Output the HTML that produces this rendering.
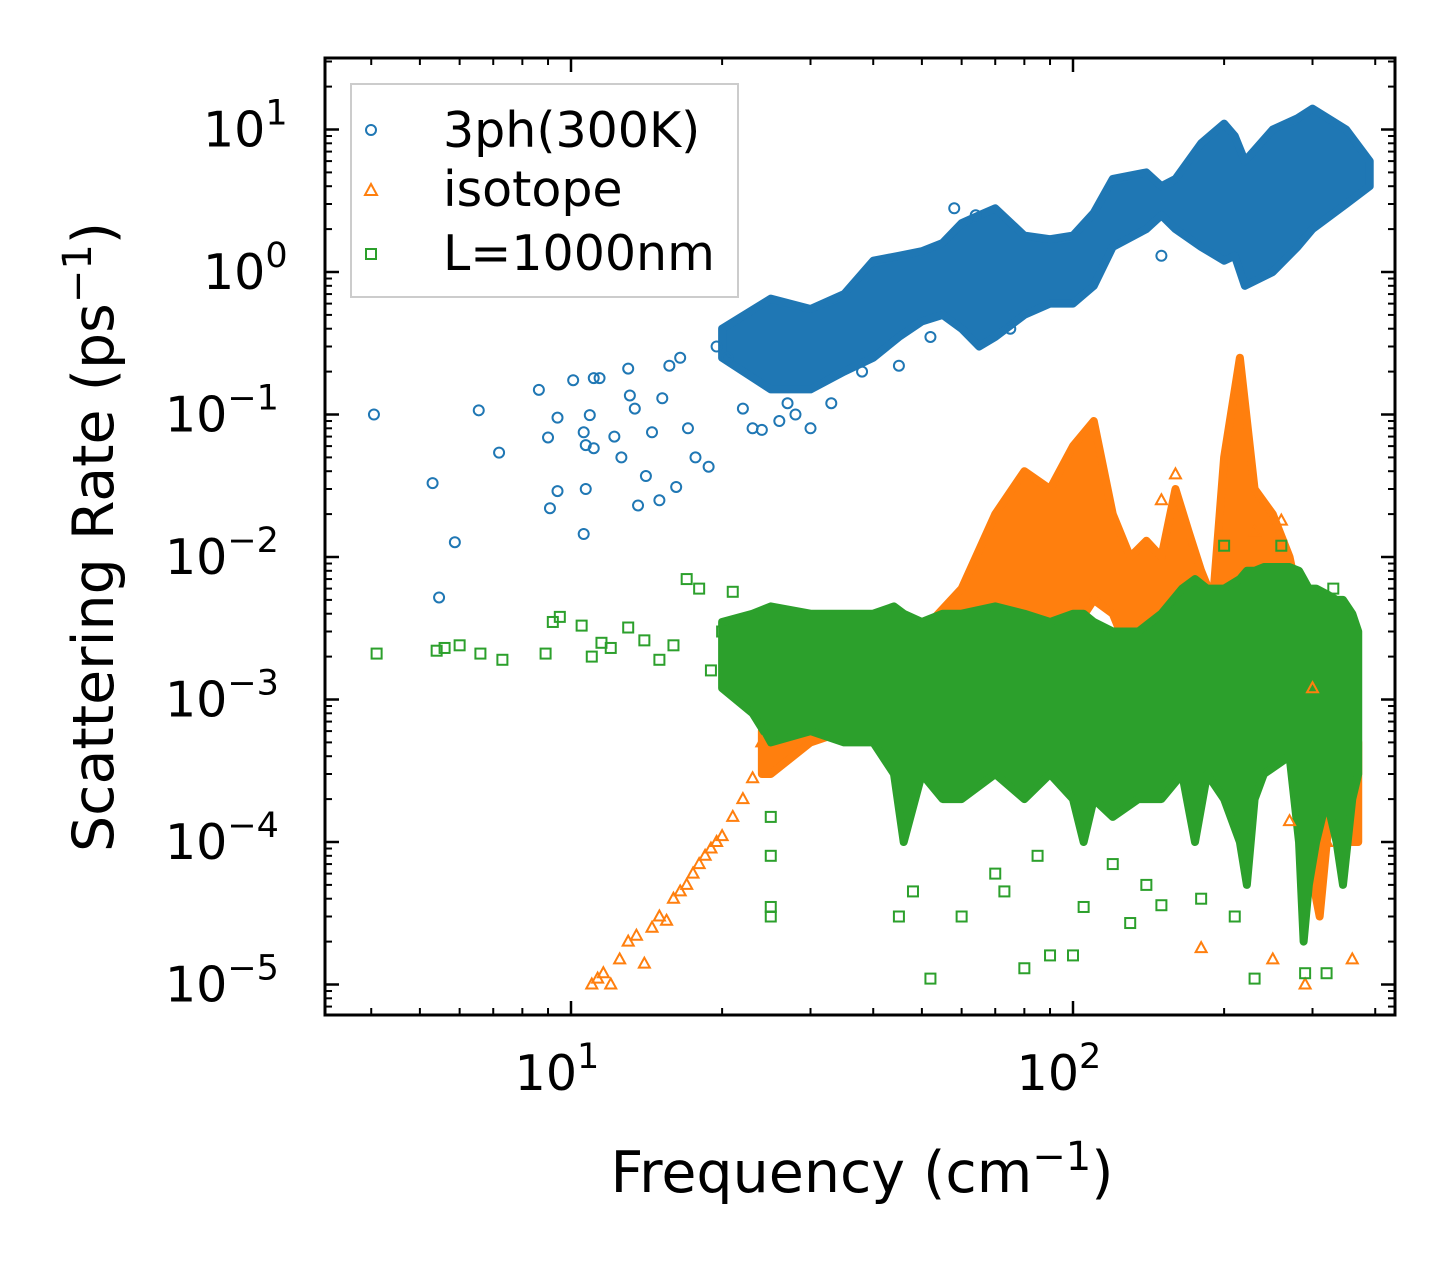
<!DOCTYPE html>
<html><head><meta charset="utf-8"><style>
body{margin:0;background:#fff;}
svg text{font-family:"DejaVu Sans","Liberation Sans",sans-serif;fill:#000;}
</style></head><body>
<svg id="chart" width="1455" height="1265" viewBox="0 0 1455 1265" xmlns="http://www.w3.org/2000/svg">
<g id="bands"></g>
<g id="marks"></g>
<g id="axes"></g>
<text x="862" y="1192" font-size="57" text-anchor="middle">Frequency (cm<tspan dy="-22" font-size="40">−1</tspan><tspan dy="22">)</tspan></text>
<text transform="translate(113,537) rotate(-90)" font-size="57" text-anchor="middle">Scattering Rate (ps<tspan dy="-22" font-size="40">−1</tspan><tspan dy="22">)</tspan></text>
<g>
<rect x="351" y="84" width="387" height="213" fill="#fff" stroke="#ccc" stroke-width="2"/>
<circle cx="371" cy="130" r="5" fill="none" stroke="#1f77b4" stroke-width="2"/>
<text x="443" y="147" font-size="49">3ph(300K)</text>
<polygon points="371,184 377,195 365,195" fill="none" stroke="#ff7f0e" stroke-width="2"/>
<text x="443" y="206" font-size="49">isotope</text>
<rect x="366" y="249" width="10" height="10" fill="none" stroke="#2ca02c" stroke-width="2"/>
<text x="443" y="270" font-size="49">L=1000nm</text>
</g>
</svg>
<script>
// ---- data ----
const blueFreq=[4.05,5.3,5.46,5.87,6.55,7.19,8.63,9.0,9.08,9.4,9.4,10.1,10.6,10.6,10.7,10.7,10.9,11.1,11.1,11.4,12.2,12.6,13.0,13.1,13.4,13.6,14.1,14.5,15.0,15.2,15.7,16.2,16.5,17.1,17.7,18.8,19.5,20.5,22,23,24,26,27,28,30,33,38,45,52,58,64,75,150];
const blueVal=[0.1,0.033,0.0052,0.0127,0.107,0.054,0.149,0.069,0.022,0.029,0.095,0.174,0.075,0.0145,0.030,0.061,0.099,0.18,0.058,0.18,0.07,0.05,0.21,0.136,0.11,0.023,0.037,0.075,0.025,0.13,0.22,0.031,0.25,0.08,0.05,0.043,0.3,0.25,0.11,0.08,0.078,0.09,0.12,0.1,0.08,0.12,0.2,0.22,0.35,2.8,2.5,0.4,1.3];
const blueBandF=[20,25,30,35,40,45,50,55,60,65,70,80,90,100,110,120,140,150,160,180,200,210,220,250,280,300,350,390];
const blueBandLo=[0.25,0.15,0.15,0.2,0.25,0.35,0.45,0.5,0.4,0.3,0.35,0.5,0.6,0.6,0.8,1.5,2.0,2.5,2.0,1.5,1.2,1.3,0.8,1.0,1.5,2.0,3.0,4.0];
const blueBandHi=[0.4,0.65,0.55,0.7,1.2,1.3,1.4,1.6,2.2,2.5,2.8,1.8,1.7,1.8,2.6,4.5,5.0,4.0,4.5,8.0,11,9,6.0,10,12,14,10,6.0];
const orFreq=[11,11.3,11.6,12,12.5,13,13.5,14,14.5,15,15.5,16,16.5,17,17.5,18,18.5,19,19.5,20,21,22,23,24,180,250,270,290,320,360,160,150,230,260,300];
const orVal=[1e-5,1.1e-5,1.2e-5,1e-5,1.5e-5,2e-5,2.2e-5,1.4e-5,2.5e-5,3e-5,2.8e-5,4e-5,4.5e-5,5e-5,6e-5,7e-5,8e-5,9e-5,1e-4,1.1e-4,1.5e-4,2e-4,2.8e-4,5e-4,1.8e-5,1.5e-5,1.4e-4,1e-5,1e-4,1.5e-5,0.038,0.025,0.015,0.018,0.0012];
const orBandF=[24,25,30,35,40,50,60,70,80,90,100,110,120,130,140,150,160,170,180,190,200,215,230,250,270,290,310,330,360,370];
const orBandLo=[3e-4,3e-4,5e-4,6e-4,8e-4,1e-3,2e-3,3e-3,3e-3,2e-3,3e-3,5e-3,4e-3,2e-3,1e-3,1e-3,3e-3,3e-3,2e-3,1e-3,2e-3,5e-3,2e-3,1e-3,1e-3,1e-4,3e-5,3e-4,1e-4,1e-4];
const orBandHi=[6e-4,1e-3,8e-4,1e-3,1.5e-3,3e-3,6e-3,2e-2,4e-2,3e-2,6e-2,9e-2,2e-2,1e-2,1.3e-2,1e-2,3e-2,1.5e-2,8e-3,5e-3,5e-2,0.25,3e-2,2e-2,1e-2,3e-3,1e-3,2e-3,1e-3,5e-4];
const grFreq=[4.1,5.4,5.6,6,6.6,7.3,8.9,9.2,9.5,10.5,11,11.5,12,13,14,15,16,17,18,19,20,21,25,25,25,25,45,48,52,60,73,80,90,100,105,130,150,180,210,230,290,320,70,85,120,140,200,260,330];
const grVal=[0.0021,0.0022,0.0023,0.0024,0.0021,0.0019,0.0021,0.0035,0.0038,0.0033,0.002,0.0025,0.0023,0.0032,0.0026,0.0019,0.0024,0.007,0.006,0.0016,0.003,0.0057,1.5e-4,8e-5,3.5e-5,3e-5,3e-5,4.5e-5,1.1e-5,3e-5,4.5e-5,1.3e-5,1.6e-5,1.6e-5,3.5e-5,2.7e-5,3.6e-5,4e-5,3e-5,1.1e-5,1.2e-5,1.2e-5,6e-5,8e-5,7e-5,5e-5,0.012,0.012,0.006];
const grBandF=[20,23,25,30,35,40,44,46,50,55,60,70,80,90,100,105,110,120,135,150,165,175,185,200,215,222,230,240,270,282,288,295,305,320,335,345,360,370];
const grBandLo=[1.2e-3,8e-4,5e-4,6e-4,5e-4,5e-4,3e-4,1e-4,3e-4,2e-4,2e-4,3e-4,2e-4,3e-4,2e-4,1e-4,2e-4,1.5e-4,2e-4,2e-4,3e-4,1e-4,3e-4,2e-4,1e-4,5e-5,2e-4,3e-4,4e-4,1e-4,2e-5,5e-5,1e-4,2e-4,1e-4,5e-5,2e-4,3e-4];
const grBandHi=[3.5e-3,4e-3,4.5e-3,4e-3,4e-3,4e-3,4.5e-3,4e-3,3.5e-3,4e-3,4e-3,4.5e-3,4e-3,3.5e-3,4e-3,4e-3,3.5e-3,3e-3,3e-3,4e-3,6e-3,7e-3,6e-3,6e-3,7e-3,8e-3,8e-3,8.5e-3,8.5e-3,8e-3,7e-3,6e-3,6e-3,5.5e-3,5e-3,5e-3,4e-3,3e-3];
const xTicks=[10,100];
const xTickExp=["1","2"];
const yTicks=[1e1,1e0,1e-1,1e-2,1e-3,1e-4,1e-5];
const yTickExp=["1","0","−1","−2","−3","−4","−5"];
// ---- axes ----
const L=325,R=1395,T=58,B=1015;
const X0=571,XD=502,Y0=272,YD=142.5;
const xs=f=>X0+(Math.log10(f)-1)*XD;
const ys=v=>Y0-Math.log10(v)*YD;
const NS="http://www.w3.org/2000/svg";
function mk(tag,parent){const e=document.createElementNS(NS,tag);parent.appendChild(e);return e;}
const bands=document.getElementById('bands'),marks=document.getElementById('marks'),axes=document.getElementById('axes');
const clip=mk('clipPath',document.getElementById('chart'));clip.id='pc';
const cr=mk('rect',clip);cr.setAttribute('x',L);cr.setAttribute('y',T);cr.setAttribute('width',R-L);cr.setAttribute('height',B-T);
bands.setAttribute('clip-path','url(#pc)');marks.setAttribute('clip-path','url(#pc)');
function band(F,lo,hi,col,name){
  const pts=[];F.forEach((f,i)=>pts.push(xs(f)+','+ys(hi[i])));
  for(let i=F.length-1;i>=0;i--)pts.push(xs(F[i])+','+ys(lo[i]));
  const p=mk('polygon',bands);p.setAttribute('points',pts.join(' '));
  p.setAttribute('fill',col);p.setAttribute('stroke',col);p.setAttribute('stroke-width','8');p.setAttribute('stroke-linejoin','round');
  
  
}
function pts(F,V,col,shape,name){
  F.forEach((f,i)=>{const x=xs(f),y=ys(V[i]);let e;
    if(shape==='c'){e=mk('circle',marks);e.setAttribute('cx',x);e.setAttribute('cy',y);e.setAttribute('r',5);}
    else if(shape==='t'){e=mk('polygon',marks);e.setAttribute('points',`${x},${y-6} ${x+5.5},${y+4} ${x-5.5},${y+4}`);}
    else{e=mk('rect',marks);e.setAttribute('x',x-5);e.setAttribute('y',y-5);e.setAttribute('width',10);e.setAttribute('height',10);}
    e.setAttribute('fill','none');e.setAttribute('stroke',col);e.setAttribute('stroke-width','2');
    
    
  });
}
band(blueBandF,blueBandLo,blueBandHi,'#1f77b4','band-3ph');
pts(blueFreq,blueVal,'#1f77b4','c','point-3ph');
band(orBandF,orBandLo,orBandHi,'#ff7f0e','band-isotope');
pts(orFreq,orVal,'#ff7f0e','t','point-isotope');
band(grBandF,grBandLo,grBandHi,'#2ca02c','band-boundary');
pts(grFreq,grVal,'#2ca02c','s','point-boundary');
// frame
const fr=mk('rect',axes);fr.setAttribute('x',L);fr.setAttribute('y',T);fr.setAttribute('width',R-L);fr.setAttribute('height',B-T);
fr.setAttribute('fill','none');fr.setAttribute('stroke','#000');fr.setAttribute('stroke-width','3');


function ln(x1,y1,x2,y2,w){const l=mk('line',axes);l.setAttribute('x1',x1);l.setAttribute('y1',y1);l.setAttribute('x2',x2);l.setAttribute('y2',y2);l.setAttribute('stroke','#000');l.setAttribute('stroke-width',w);
  
  }
for(let d=0;d<=2;d++){for(let m=1;m<10;m++){const f=m*Math.pow(10,d);const x=xs(f);if(x<L||x>R)continue;
  const len=m===1?14:7,w=m===1?2.5:2;ln(x,B,x,B-len,w);ln(x,T,x,T+len,w);}}
xTicks.forEach((f,i)=>{const t=mk('text',axes);t.setAttribute('x',xs(f)-14);t.setAttribute('y',1090);t.setAttribute('font-size','49');t.setAttribute('text-anchor','middle');
  t.textContent='10';const s=mk('tspan',t);s.setAttribute('dy','-22');s.setAttribute('font-size','35');s.textContent=xTickExp[i];
  
  });
for(let d=-6;d<=1;d++){for(let m=1;m<10;m++){const v=m*Math.pow(10,d);const y=ys(v);if(y<T||y>B)continue;
  const len=m===1?14:7,w=m===1?2.5:2;ln(L,y,L+len,y,w);ln(R,y,R-len,y,w);}}
yTicks.forEach((v,i)=>{const t=mk('text',axes);t.setAttribute('y',ys(v)+17);t.setAttribute('font-size','49');t.setAttribute('text-anchor','start');
  t.textContent='10';const s=mk('tspan',t);s.setAttribute('dy','-22');s.setAttribute('font-size','35');s.textContent=yTickExp[i];
  t.setAttribute('x',yTickExp[i].length>1?165:203);
  
  });
</script>
</body></html>
